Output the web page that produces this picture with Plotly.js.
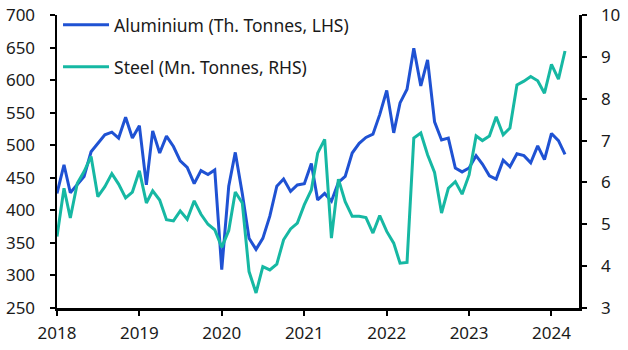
<!DOCTYPE html>
<html>
<head>
<meta charset="utf-8">
<script src="https://cdn.plot.ly/plotly-3.0.1.min.js"></script>
<style>html,body{margin:0;padding:0;background:#fff;}#chart{width:628px;height:350px;}</style>
</head>
<body>
<div id="chart"></div>
<script>
// Monthly data, Jan 2018 – Mar 2024
const months = [];
for (let y = 2018; y <= 2024; y++) {
  for (let m = 1; m <= 12; m++) {
    if (y === 2024 && m > 3) break;
    months.push(y + '-' + String(m).padStart(2, '0') + '-01');
  }
}

const aluminium = [
  426, 470, 427, 439, 452, 490, 503, 516, 520, 511, 543, 511,
  530, 439, 522, 488, 514, 498, 476, 466, 441, 461, 455, 462,
  309, 437, 489, 426, 357, 340, 357, 391, 437, 448, 429, 439,
  441, 472, 416, 426, 414, 443, 452, 488, 503, 512, 517, 547,
  584, 519, 565, 586, 649, 591, 631, 536, 508, 511, 465, 459,
  465, 484, 471, 453, 448, 477, 467, 487, 484, 473, 499, 478,
  518, 507, 486
];

const steel = [
  4.71, 5.86, 5.15, 5.98, 6.26, 6.62, 5.66, 5.90, 6.21, 5.96, 5.63, 5.77,
  6.28, 5.51, 5.80, 5.58, 5.11, 5.08, 5.32, 5.12, 5.56, 5.24, 5.00, 4.87,
  4.45, 4.85, 5.77, 5.51, 3.87, 3.36, 3.99, 3.91, 4.05, 4.63, 4.89, 5.03,
  5.47, 5.82, 6.70, 7.03, 4.67, 6.08, 5.54, 5.19, 5.19, 5.16, 4.79, 5.21,
  4.83, 4.55, 4.07, 4.09, 7.06, 7.18, 6.66, 6.24, 5.27, 5.86, 6.02, 5.72,
  6.18, 7.11, 7.00, 7.11, 7.57, 7.14, 7.30, 8.33, 8.42, 8.53, 8.43, 8.13,
  8.82, 8.47, 9.14
];

const seriesNames = ['Aluminium (Th. Tonnes, LHS)', 'Steel (Mn. Tonnes, RHS)'];

const blue = '#1f52d3';
const teal = '#16b8a3';
const font = 'Noto Sans, Open Sans, sans-serif';
const textColor = '#1a1a1a';

const traces = [
  {
    x: months, y: aluminium, name: seriesNames[0], type: 'scatter', mode: 'lines',
    line: {color: blue, width: 3}, yaxis: 'y', legend: 'legend'
  },
  {
    x: months, y: steel, name: seriesNames[1], type: 'scatter', mode: 'lines',
    line: {color: teal, width: 3}, yaxis: 'y2', legend: 'legend2'
  }
];

const axisCommon = {
  showgrid: false, zeroline: false, showline: true, linecolor: '#000', linewidth: 2.5,
  ticks: 'outside', ticklen: 5, tickwidth: 2, tickcolor: '#000',
  tickfont: {family: font, size: 17, color: textColor}
};

const legendCommon = {
  xref: 'container', yref: 'container',
  xanchor: 'left', yanchor: 'middle', bgcolor: 'rgba(0,0,0,0)', borderwidth: 0,
  font: {family: font, size: 17.5, color: textColor}, itemwidth: 46
};

const layout = {
  width: 628, height: 350,
  margin: {l: 56.5, r: 48.7, t: 15, b: 42, pad: 0, autoexpand: false},
  paper_bgcolor: '#fff', plot_bgcolor: '#fff',
  showlegend: true,
  xaxis: Object.assign({}, axisCommon, {
    type: 'date', range: ['2018-01-01', '2024-05-02'], dtick: 'M12', tick0: '2018-01-01',
    tickformat: '%Y', ticklabelstandoff: 3
  }),
  yaxis: Object.assign({}, axisCommon, {
    range: [250, 700], dtick: 50, ticklabelstandoff: 11
  }),
  yaxis2: Object.assign({}, axisCommon, {
    range: [3, 10], dtick: 1, overlaying: 'y', side: 'right', ticklabelstandoff: 11
  }),
  legend: Object.assign({}, legendCommon, {x: 0.0924, y: 0.9286}),
  legend2: Object.assign({}, legendCommon, {x: 0.0924, y: 0.8086})
};

Plotly.newPlot('chart', traces, layout, {displayModeBar: false, staticPlot: true});
</script>
</body>
</html>
